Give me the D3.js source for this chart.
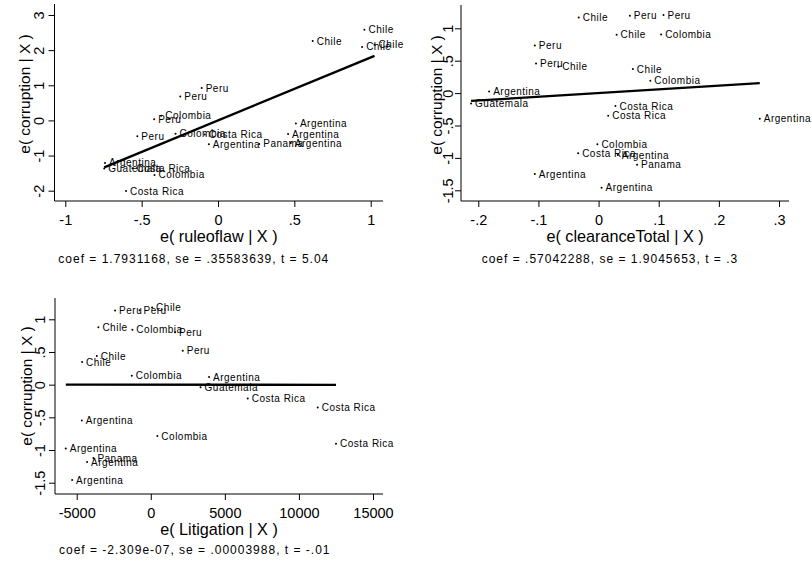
<!DOCTYPE html>
<html><head><meta charset="utf-8">
<script src="https://cdn.jsdelivr.net/npm/d3@7"></script>
<style>
body{margin:0;background:#fff}
svg{display:block}
text{font-family:"Liberation Sans",Arial,Helvetica,sans-serif;fill:#000}
</style>
</head><body>
<svg id="chart" width="812" height="563"></svg>
<script>
// ---------- DATA ----------
const ruleLabels = ["Chile","Chile","Chile","Chile","Peru","Peru","Peru","Peru","Colombia","Colombia","Colombia","Costa Rica","Costa Rica","Costa Rica","Argentina","Argentina","Argentina","Argentina","Argentina","Panama","Guatemala"];
const ruleX = [0.959,0.62,0.944,1.025,-0.107,-0.247,-0.418,-0.528,-0.372,-0.278,-0.416,-0.087,-0.56,-0.602,-0.06,0.51,0.459,0.477,-0.74,0.27,-0.745];
const ruleY = [2.58,2.26,2.09,2.15,0.92,0.68,0.03,-0.45,0.13,-0.38,-1.55,-0.40,-1.36,-2.01,-0.68,-0.085,-0.39,-0.645,-1.21,-0.67,-1.37];

const clearLabels = ["Chile","Chile","Chile","Chile","Peru","Peru","Peru","Peru","Colombia","Colombia","Colombia","Costa Rica","Costa Rica","Costa Rica","Argentina","Argentina","Argentina","Argentina","Argentina","Panama","Guatemala"];
const clearX = [-0.033,0.030,-0.067,0.057,0.052,0.108,-0.106,-0.104,0.104,0.086,-0.002,0.028,0.016,-0.034,-0.182,0.268,0.032,-0.106,0.005,0.064,-0.212];
const clearY = [1.168,0.90,0.406,0.37,1.193,1.204,0.736,0.458,0.906,0.19,-0.79,-0.20,-0.35,-0.93,0.026,-0.396,-0.957,-1.25,-1.461,-1.106,-0.159];

const litLabels = ["Chile","Chile","Chile","Chile","Peru","Peru","Peru","Peru","Colombia","Colombia","Colombia","Costa Rica","Costa Rica","Costa Rica","Argentina","Argentina","Argentina","Argentina","Argentina","Panama","Guatemala"];
const litX = [90,-3536,-3644,-4636,-2409,-756,1640,2159,-1242,-1282,445,6545,11268,12503,3934,-4656,-5736,-4298,-5310,-3873,3360];
const litY = [1.18,0.88,0.437,0.346,1.133,1.14,0.80,0.518,0.84,0.137,-0.787,-0.213,-0.35,-0.905,0.117,-0.549,-0.976,-1.184,-1.459,-1.123,-0.041];

const coefs = [1.7931168, 0.57042288, -2.309e-07];
const notes = ["coef = 1.7931168, se = .35583639, t = 5.04",
               "coef = .57042288, se = 1.9045653, t = .3",
               "coef = -2.309e-07, se = .00003988, t = -.01"];
const xTitles = ["e( ruleoflaw | X )","e( clearanceTotal | X )","e( Litigation | X )"];
const yTitle = "e( corruption | X )";

const ruleTicks = [-1,-0.5,0,0.5,1];
const ruleTickLabels = ["-1","-.5","0",".5","1"];
const clearTicks = [-0.2,-0.1,0,0.1,0.2,0.3];
const clearTickLabels = ["-.2","-.1","0",".1",".2",".3"];
const litTicks = [-5000,0,5000,10000,15000];
const litTickLabels = ["-5000","0","5000","10000","15000"];
const y1Ticks = [-2,-1,0,1,2,3];
const y1TickLabels = ["-2","-1","0","1","2","3"];
const y23Ticks = [-1.5,-1,-0.5,0,0.5,1];
const y23TickLabels = ["-1.5","-1","-.5","0",".5","1"];

// ---------- LAYOUT ----------
const panels = [
  {labels:ruleLabels, xs:ruleX, ys:ruleY, coef:coefs[0], note:notes[0], xTitle:xTitles[0],
   xTicks:ruleTicks, xTickLabels:ruleTickLabels, yTicks:y1Ticks, yTickLabels:y1TickLabels,
   xDom:[-1,1], xRange:[65.3,370.7], yDom:[-2,3], yRange:[190.7,15],
   left:54.5, right:383, top:4, bottom:201, noteX:58.3, noteY:263,
   yLabOff:11, yTitleOff:24.5, yTitleC:94},
  {labels:clearLabels, xs:clearX, ys:clearY, coef:coefs[1], note:notes[1], xTitle:xTitles[1],
   xTicks:clearTicks, xTickLabels:clearTickLabels, yTicks:y23Ticks, yTickLabels:y23TickLabels,
   xDom:[-0.2,0.3], xRange:[478.3,779], yDom:[-1.5,1], yRange:[190.3,28.3],
   left:461, right:789, top:5, bottom:201, noteX:481.7, noteY:263,
   yLabOff:8, yTitleOff:19.5, yTitleC:95},
  {labels:litLabels, xs:litX, ys:litY, coef:coefs[2], note:notes[2], xTitle:xTitles[2],
   xTicks:litTicks, xTickLabels:litTickLabels, yTicks:y23Ticks, yTickLabels:y23TickLabels,
   xDom:[-5000,15000], xRange:[76.7,373], yDom:[-1.5,1], yRange:[482.7,319.3],
   left:55, right:383, top:298, bottom:494, noteX:59, noteY:554,
   yLabOff:10, yTitleOff:23, yTitleC:386}
];

const svg = d3.select("#chart");
svg.append("rect").attr("width",812).attr("height",563).attr("fill","#fff");

panels.forEach(p => {
  const g = svg.append("g");
  const x = d3.scaleLinear().domain(p.xDom).range(p.xRange);
  const y = d3.scaleLinear().domain(p.yDom).range(p.yRange);

  // axis lines
  g.append("line").attr("x1",p.left).attr("x2",p.right).attr("y1",p.bottom).attr("y2",p.bottom)
    .attr("stroke","#000").attr("stroke-width",1);
  g.append("line").attr("x1",p.left).attr("x2",p.left).attr("y1",p.top).attr("y2",p.bottom)
    .attr("stroke","#000").attr("stroke-width",1);

  // x axis
  const xa = d3.axisBottom(x).tickValues(p.xTicks).tickFormat((d,i)=>p.xTickLabels[i]).tickSize(6).tickSizeOuter(0);
  const gx = g.append("g").attr("transform",`translate(0,${p.bottom})`).call(xa);
  gx.select(".domain").remove();
  gx.attr("font-family",null).attr("font-size",null);
  gx.selectAll("line").attr("stroke","#000");
  gx.selectAll("text").attr("y",24).attr("dy",null).style("font-size","14.5px");

  // y axis
  const ya = d3.axisLeft(y).tickValues(p.yTicks).tickFormat((d,i)=>p.yTickLabels[i]).tickSize(6).tickSizeOuter(0);
  const gy = g.append("g").attr("transform",`translate(${p.left},0)`).call(ya);
  gy.select(".domain").remove();
  gy.attr("font-family",null).attr("font-size",null);
  gy.selectAll("line").attr("stroke","#000");
  gy.selectAll("text").attr("x",0).attr("y",-p.yLabOff).attr("dy",null)
    .attr("transform","rotate(-90)").attr("text-anchor","middle").style("font-size","14.5px");

  // fit line
  const xmin = d3.min(p.xs), xmax = d3.max(p.xs);
  g.append("line").attr("x1",x(xmin)).attr("y1",y(p.coef*xmin)).attr("x2",x(xmax)).attr("y2",y(p.coef*xmax))
    .attr("stroke","#000").attr("stroke-width",2.3);

  // points + labels
  const pts = g.append("g").selectAll("g").data(p.xs.map((v,i)=>({x:v,y:p.ys[i],l:p.labels[i]}))).join("g");
  pts.append("circle").attr("cx",d=>x(d.x)).attr("cy",d=>y(d.y)).attr("r",1).attr("fill","#000");
  pts.append("text").attr("x",d=>x(d.x)+4).attr("y",d=>y(d.y)+3.5)
    .style("font-size","10px").style("letter-spacing","0.5px").text(d=>d.l);

  // titles
  g.append("text").attr("x",(p.left+p.right)/2).attr("y",p.bottom+41).attr("text-anchor","middle")
    .style("font-size","16.2px").text(p.xTitle);
  g.append("text").attr("transform",`translate(${p.left-p.yTitleOff},${p.yTitleC}) rotate(-90)`)
    .attr("text-anchor","middle").style("font-size","15.5px").text(yTitle);
  g.append("text").attr("x",p.noteX).attr("y",p.noteY).style("font-size","12px").style("letter-spacing","1px").text(p.note);
});
</script>
</body></html>
